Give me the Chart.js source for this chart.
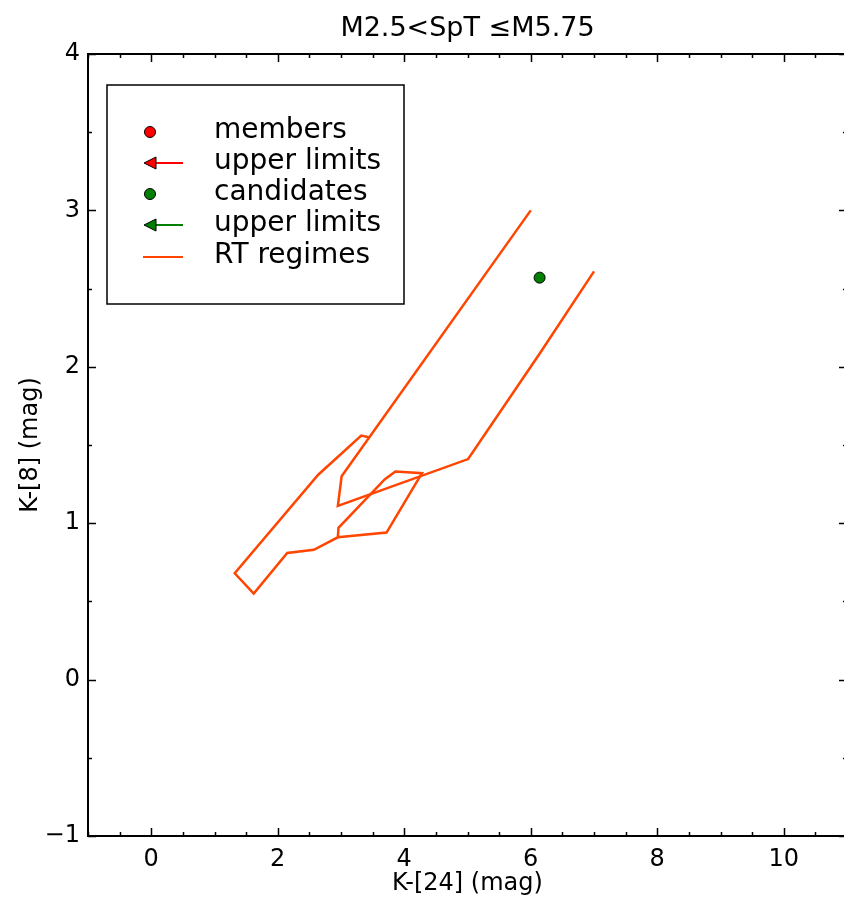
<!DOCTYPE html>
<html lang="en">
  <head>
    <meta charset="UTF-8" />
    <title>K-[8] vs K-[24], M2.5&lt;SpT&le;M5.75</title>
    <script src="https://cdn.jsdelivr.net/npm/chart.js"></script>
    <style>
      html, body { margin: 0; padding: 0; overflow: hidden; background: #fff; }
      canvas { display: block; }
    </style>
  </head>
  <body>
    <canvas id="sedChart" width="856" height="899"></canvas>
    <script>
      // axis ticks
      var xTicks = [0, 2, 4, 6, 8, 10];
      var yTicks = [-1, 0, 1, 2, 3, 4];

      // observed sources (this spectral type bin has a single candidate)
      var memberX = [];
      var memberY = [];
      var memberLimX = [];
      var memberLimY = [];
      var candidateX = [6.14];
      var candidateY = [2.57];
      var candidateLimX = [];
      var candidateLimY = [];

      // radiative transfer model regimes
      var rtOuterX = [7.0, 6.15, 5.01, 2.95, 3.01, 6.0];
      var rtOuterY = [2.61, 2.09, 1.41, 1.11, 1.3, 3.0];
      var rtInnerX = [3.44, 3.32, 2.64, 1.32, 1.62, 2.15, 2.57, 2.95, 3.72, 4.28, 3.86, 3.69, 2.96, 2.95];
      var rtInnerY = [1.55, 1.56, 1.31, 0.68, 0.55, 0.81, 0.83, 0.91, 0.94, 1.32, 1.33, 1.28, 0.97, 0.91];

      var legendLabels = ["members", "upper limits", "candidates", "upper limits", "RT regimes"];

      var rtColor = "#ff4500";
      var memberColor = "#ff0000";
      var candColor = "#007f00";

      function pts(xs, ys) {
        return xs.map(function (x, i) { return { x: x, y: ys[i] }; });
      }

      Chart.defaults.font.family = "'DejaVu Sans', sans-serif";
      Chart.defaults.color = "#000";

      // inward ticks on all four sides plus the top/right spines
      var frameTicks = {
        id: "frameTicks",
        afterDraw: function (chart) {
          var ctx = chart.ctx, a = chart.chartArea;
          var xs = chart.scales.x, ys = chart.scales.y;
          ctx.save();
          ctx.strokeStyle = "#000";
          ctx.lineWidth = 1.5;
          var v, p, len;
          for (v = xs.min; v <= xs.max + 1e-9; v += 0.5) {
            p = Math.round(xs.getPixelForValue(v)) + 0.5;
            len = (Math.abs(v % 2) < 1e-9) ? 8 : 4;
            ctx.beginPath();
            ctx.moveTo(p, a.bottom); ctx.lineTo(p, a.bottom - len);
            ctx.moveTo(p, a.top); ctx.lineTo(p, a.top + len);
            ctx.stroke();
          }
          for (v = ys.min; v <= ys.max + 1e-9; v += 0.5) {
            p = Math.round(ys.getPixelForValue(v)) + 0.5;
            len = (Math.abs(v % 1) < 1e-9) ? 8 : 4;
            ctx.beginPath();
            ctx.moveTo(a.left, p); ctx.lineTo(a.left + len, p);
            ctx.moveTo(a.right, p); ctx.lineTo(a.right - len, p);
            ctx.stroke();
          }
          ctx.lineWidth = 2;
          ctx.strokeRect(a.left, a.top, a.right - a.left, a.bottom - a.top);
          ctx.restore();
        }
      };

      // matplotlib-style boxed legend in the upper left corner
      var boxLegend = {
        id: "boxLegend",
        afterDraw: function (chart) {
          var ctx = chart.ctx;
          var bx = 107, by = 85, bw = 297, bh = 219;
          var rows = [132, 163, 194, 225, 257];
          ctx.save();
          ctx.fillStyle = "#fff";
          ctx.fillRect(bx, by, bw, bh);
          ctx.strokeStyle = "#000";
          ctx.lineWidth = 1.5;
          ctx.strokeRect(bx, by, bw, bh);

          function dot(y, color) {
            ctx.beginPath();
            ctx.arc(150, y, 5.5, 0, Math.PI * 2);
            ctx.fillStyle = color;
            ctx.fill();
            ctx.lineWidth = 1;
            ctx.strokeStyle = "#000";
            ctx.stroke();
          }
          function arrow(y, color) {
            ctx.strokeStyle = color;
            ctx.lineWidth = 2;
            ctx.beginPath();
            ctx.moveTo(154, y); ctx.lineTo(183, y);
            ctx.stroke();
            ctx.beginPath();
            ctx.moveTo(144, y);
            ctx.lineTo(156, y - 6);
            ctx.lineTo(156, y + 6);
            ctx.closePath();
            ctx.fillStyle = color;
            ctx.fill();
            ctx.lineWidth = 1;
            ctx.strokeStyle = "#000";
            ctx.stroke();
          }
          dot(rows[0], memberColor);
          arrow(rows[1], memberColor);
          dot(rows[2], candColor);
          arrow(rows[3], candColor);
          ctx.strokeStyle = rtColor;
          ctx.lineWidth = 2;
          ctx.beginPath();
          ctx.moveTo(143, rows[4]); ctx.lineTo(183, rows[4]);
          ctx.stroke();

          ctx.fillStyle = "#000";
          ctx.font = "28px 'DejaVu Sans'";
          ctx.textBaseline = "middle";
          ctx.textAlign = "left";
          legendLabels.forEach(function (t, i) {
            ctx.fillText(t, 214, rows[i] - 1);
          });
          ctx.restore();
        }
      };

      var ctx = document.getElementById("sedChart").getContext("2d");
      var sedChart = new Chart(ctx, {
        type: "scatter",
        data: {
          datasets: [
            {
              label: "RT regimes",
              data: pts(rtOuterX, rtOuterY),
              showLine: true,
              borderColor: rtColor,
              borderWidth: 2.5,
              pointRadius: 0,
              tension: 0,
            },
            {
              label: "RT regimes",
              data: pts(rtInnerX, rtInnerY),
              showLine: true,
              borderColor: rtColor,
              borderWidth: 2.5,
              pointRadius: 0,
              tension: 0,
            },
            {
              label: "members",
              data: pts(memberX, memberY),
              backgroundColor: memberColor,
              borderColor: "#000",
              borderWidth: 1,
              pointRadius: 5.5,
            },
            {
              label: "upper limits",
              data: pts(memberLimX, memberLimY),
              backgroundColor: memberColor,
              pointStyle: "triangle",
              rotation: -90,
            },
            {
              label: "candidates",
              data: pts(candidateX, candidateY),
              backgroundColor: candColor,
              borderColor: "#000",
              borderWidth: 1,
              pointRadius: 5.5,
            },
            {
              label: "upper limits",
              data: pts(candidateLimX, candidateLimY),
              backgroundColor: candColor,
              pointStyle: "triangle",
              rotation: -90,
            },
          ],
        },
        options: {
          responsive: false,
          animation: false,
          layout: { padding: { left: 0, right: 9, top: 0, bottom: 0 } },
          plugins: {
            legend: { display: false },
            tooltip: { enabled: false },
            title: {
              display: true,
              fullSize: false,
              text: "M2.5<SpT \u2264M5.75",
              font: { size: 27, weight: "normal" },
              color: "#000",
              padding: { top: 13, bottom: 8.6 },
            },
          },
          scales: {
            x: {
              type: "linear",
              min: -1,
              max: 11,
              afterBuildTicks: function (scale) {
                scale.ticks = xTicks.map(function (v) { return { value: v }; });
              },
              afterFit: function (scale) { scale.height = 63; },
              grid: { display: false, drawTicks: false },
              border: { display: true, color: "#000", width: 2 },
              ticks: { font: { size: 24 }, padding: 9, maxRotation: 0 },
              title: {
                display: true,
                text: "K-[24] (mag)",
                font: { size: 24 },
                padding: { top: 0, bottom: 1 },
              },
            },
            y: {
              type: "linear",
              min: -1,
              max: 4,
              afterBuildTicks: function (scale) {
                scale.ticks = yTicks.map(function (v) { return { value: v }; });
              },
              afterFit: function (scale) { scale.width = 88; },
              grid: { display: false, drawTicks: false },
              border: { display: true, color: "#000", width: 2 },
              ticks: {
                font: { size: 24 },
                padding: 8,
                callback: function (v) { return v < 0 ? "\u2212" + Math.abs(v) : String(v); },
              },
              title: {
                display: true,
                text: "K-[8] (mag)",
                font: { size: 24 },
                padding: { top: 16, bottom: 0 },
              },
            },
          },
        },
        plugins: [frameTicks, boxLegend],
      });
    </script>
  </body>
</html>
